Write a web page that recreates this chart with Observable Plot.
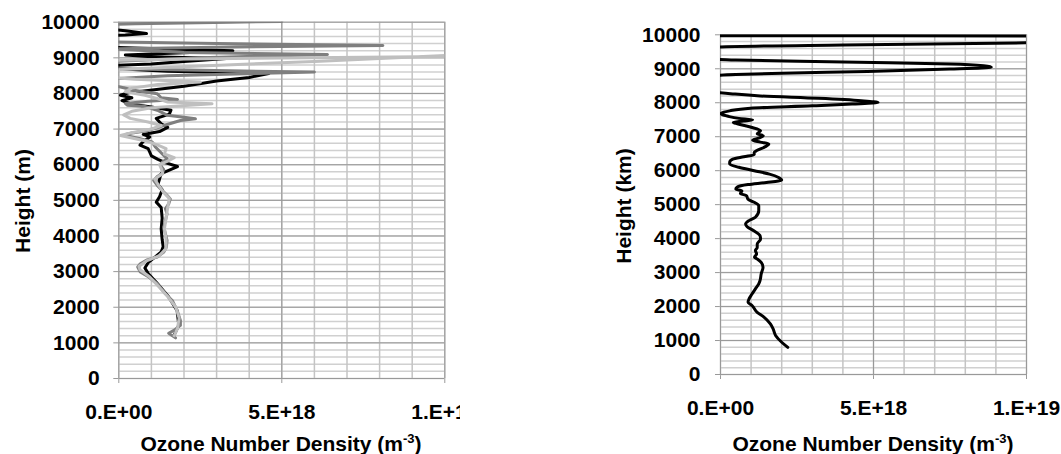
<!DOCTYPE html>
<html><head><meta charset="utf-8">
<script src="https://cdn.jsdelivr.net/npm/d3@7"></script>
<script src="https://cdn.jsdelivr.net/npm/@observablehq/plot@0.6"></script>
<style>
body{margin:0;background:#fff;width:1061px;height:454px;position:relative;overflow:hidden;font-family:"Liberation Sans",Arial,sans-serif;}
.panel{position:absolute;top:0;overflow:hidden;height:454px;}
.t{position:absolute;font-weight:bold;font-size:21px;white-space:nowrap;line-height:21px;color:#000;}
.xt{transform:translate(-50%,-50%);}
.yt{transform:translate(-50%,-50%) rotate(-90deg);}
.t sup{font-size:13px;vertical-align:8px;line-height:0;}
g[aria-label="x-axis tick"] path, g[aria-label="y-axis tick"] path, g[aria-label="x-axis"] line, g[aria-label="y-axis"] line{stroke:#999;}
</style>
</head><body>
<div id="left" class="panel" style="left:0;width:460px"></div>
<div id="right" class="panel" style="left:600px;width:461px"></div>
<div class="t yt" style="left:22px;top:201px">Height (m)</div>
<div class="t xt" style="left:281px;top:443px">Ozone Number Density (m<sup>-3</sup>)</div>
<div class="t yt" style="left:623px;top:206px">Height (km)</div>
<div class="t xt" style="left:873px;top:443px">Ozone Number Density (m<sup>-3</sup>)</div>
<script>
// Ozone number density in units of 1e18 m^-3; heights in m
const xTicks = [0, 5, 10];
const xTickLabels = ["0.E+00", "5.E+18", "1.E+19"];
const yTicks = [0, 1000, 2000, 3000, 4000, 5000, 6000, 7000, 8000, 9000, 10000];

// Left panel — three profiles
const blackHeight = [1200,1500,1900,2300,2700,2950,3100,3250,3400,3550,3700,3900,4200,4500,4800,4950,5100,5300,5450,5600,5750,5850,5950,6050,6150,6250,6350,6450,6550,6650,6780,6850,6930,7050,7150,7300,7420,7530,7620,7700,7800,7880,7950,8020,8080,8200,8350,8450,8560,8620,8700,8780,8830,8900,8980,9030,9080,9140,9200,9260,9300,9620,9640,9680,9760,9810];
const blackDensity = [1.69,1.84,1.79,1.52,1.15,0.9,0.8,0.9,1.1,1.3,1.36,1.33,1.3,1.33,1.3,1.15,1.25,1.33,1.2,1.25,1.3,1.55,1.8,1.45,1.2,1.0,0.95,0.9,0.65,0.75,0.95,0.75,1.25,1.5,1.3,1.15,1.55,1.6,1.0,0.4,0.1,0.4,0.05,0.3,0.9,2.0,3.0,4.0,4.6,1.5,-0.2,-0.3,1.0,2.0,3.3,1.0,0.2,2.0,3.5,1.0,-0.3,-0.3,0.2,0.85,0.2,-0.3];

const darkHeight = [1140,1270,1350,1490,1630,1910,2190,2380,2660,2850,2990,3130,3220,3330,3410,3550,3690,3880,4060,4250,4440,4620,4760,4900,5040,5140,5280,5420,5560,5670,5750,5860,5980,6070,6170,6260,6400,6500,6640,6730,6800,6850,6890,6950,7100,7240,7290,7340,7390,7530,7640,7670,7720,7780,7830,7880,7990,8090,8160,8250,8410,8500,8600,8650,8693,8900,9000,9095,9150,9250,9300,9347,9400,9450,9940,9957,10000,10020];
const darkDensity = [1.74,1.53,1.69,1.89,1.89,1.79,1.64,1.43,1.18,0.92,0.66,0.58,0.66,0.87,1.18,1.38,1.46,1.48,1.43,1.38,1.43,1.48,1.43,1.53,1.58,1.48,1.33,1.18,1.07,1.18,1.33,1.38,1.28,1.33,1.48,1.38,1.23,1.12,1.02,0.66,0.31,0.2,0.41,0.87,1.38,1.89,2.35,1.94,1.48,1.18,0.77,0.26,0.2,0.9,1.8,1.3,1.18,0.46,0.15,-0.3,-0.2,1.5,6.0,2.5,-0.2,-0.2,2.5,6.4,2.0,-0.2,3.0,8.1,3.0,-0.3,-0.3,0.5,3.4,5.0];

const lightHeight = [1200,1400,1700,2000,2300,2600,2850,3050,3150,3300,3450,3650,3900,4200,4500,4800,5050,5250,5450,5600,5750,5900,6000,6100,6200,6300,6450,6550,6650,6750,6820,6900,7000,7100,7200,7300,7400,7500,7600,7710,7760,7850,7950,8050,8150,8250,8320,8400,8450,8650,8700,8900,9130,9050,8960,8930,9380];
const lightDensity = [1.7,1.8,1.85,1.75,1.5,1.2,0.95,0.65,0.62,0.85,1.25,1.45,1.45,1.4,1.45,1.5,1.55,1.35,1.2,1.1,1.35,1.3,1.25,1.5,1.7,1.4,1.45,1.2,0.9,0.4,0.05,0.4,1.0,1.3,0.9,0.35,0.15,0.4,1.0,2.86,1.5,1.2,0.8,0.2,0.4,1.2,2.5,0.5,-0.3,-0.3,0.66,6.0,11.5,11.0,1.5,-0.3,-0.3];

// Right panel — one profile
const rightHeight = [800,950,1150,1340,1490,1690,1830,2030,2130,2220,2370,2520,2670,2760,2960,3160,3300,3400,3450,3550,3650,3740,3840,3990,4090,4230,4350,4430,4530,4630,4820,4970,5070,5160,5263,5330,5400,5460,5520,5590,5650,5724,5800,5900,6000,6100,6194,6250,6340,6410,6470,6536,6600,6700,6782,6840,6899,6960,7027,7090,7174,7280,7380,7420,7460,7500,7540,7600,7683,7760,7840,7909,7960,8007,8060,8130,8200,8260,8330,8600,8790,8830,8870,8920,8990,9050,9090,9140,9180,9220,9260,9290,9500,9620,9643,9700,9770,9800,9900,9960,9966,9975,9985];
const rightDensity = [2.2,2.0,1.8,1.72,1.63,1.42,1.2,1.03,0.9,0.93,1.03,1.14,1.25,1.29,1.33,1.39,1.33,1.2,1.11,1.18,1.14,1.2,1.2,1.31,1.29,1.09,0.87,0.82,0.93,1.14,1.25,1.25,1.1,0.9,0.85,0.65,0.7,0.5,0.55,0.9,1.5,2.0,1.9,1.6,1.1,0.6,0.3,0.3,0.4,0.76,1.1,1.1,1.2,1.45,1.58,1.3,1.05,1.25,1.4,1.2,1.31,1.0,0.55,0.42,0.75,1.05,0.6,0.25,0.0,0.3,0.98,3.0,4.3,5.15,4.6,3.2,1.3,0.4,-0.3,-1.0,-0.3,0.5,2.0,4.8,7.5,8.85,8.6,7.5,5.5,2.6,0.5,-0.3,-1.0,-0.3,0.0,4.0,10.5,14.0,20.0,14.0,10.0,0.0,-1.0];

const rows = (hs, vs) => hs.map((h, i) => ({h, v: vs[i]}));

function panel(el, width, m, series, curve, ypad) {
  const minorY = d3.range(0, 10001, 200);
  const minorX = d3.range(0, 11, 1);
  const p = Plot.plot({
    width, height: 454,
    marginLeft: m[0], marginRight: m[1], marginTop: m[2], marginBottom: m[3],
    style: {fontFamily: "Liberation Sans, Arial, sans-serif", fontSize: "21px", fontWeight: "bold", color: "#000", background: "#fff"},
    x: {domain: [0, 10], ticks: xTicks, tickFormat: d => xTickLabels[xTicks.indexOf(d)], tickSize: 5, tickPadding: 21, label: null},
    y: {domain: [0, 10000], ticks: yTicks, tickFormat: d => String(d), tickSize: 5, tickPadding: ypad, label: null},
    marks: [
      Plot.ruleY(minorY, {stroke: "#d0d0d0", strokeWidth: 1.5}),
      Plot.ruleX(minorX, {stroke: "#c4c4c4", strokeWidth: 1.5}),
      Plot.ruleY(yTicks, {stroke: "#999999", strokeWidth: 1}),
      Plot.ruleX(xTicks, {stroke: "#999999", strokeWidth: 1}),
      ...series.map(s => Plot.line(s.data, {x: "v", y: "h", stroke: s.color, strokeWidth: s.w, curve, clip: true, strokeLinejoin: "round"}))
    ]
  });
  document.getElementById(el).appendChild(p);
}

panel("left", 460, [118.3, 15.7, 21.7, 76], [
  {data: rows(blackHeight, blackDensity), color: "#000000", w: 3},
  {data: rows(darkHeight, darkDensity), color: "#7f7f7f", w: 3},
  {data: rows(lightHeight, lightDensity), color: "#bfbfbf", w: 3}
], "linear", 14);

panel("right", 461, [120, 35, 34.3, 80], [
  {data: rows(rightHeight, rightDensity), color: "#000000", w: 3}
], "monotone-y", 15);
</script>
</body></html>
